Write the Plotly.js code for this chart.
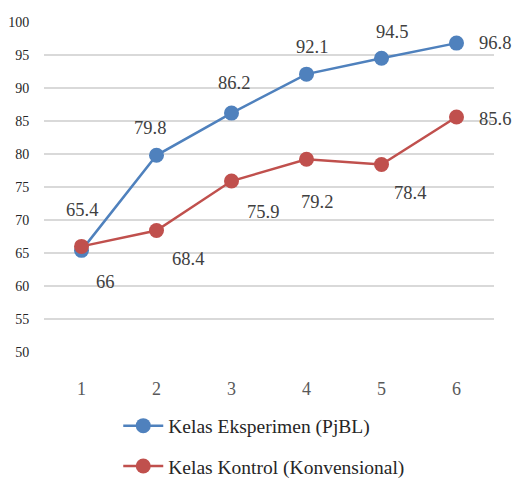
<!DOCTYPE html>
<html>
<head>
<meta charset="utf-8">
<script src="https://cdn.plot.ly/plotly-3.0.1.min.js"></script>
<style>html,body{margin:0;padding:0;background:#fff;}#chart{width:515px;height:479px;}</style>
</head>
<body>
<div id="chart"></div>
<script>
const categories = ['1', '2', '3', '4', '5', '6'];
const eksperimen = [65.4, 79.8, 86.2, 92.1, 94.5, 96.8];
const kontrol = [66, 68.4, 75.9, 79.2, 78.4, 85.6];
const seriesNames = ['Kelas Eksperimen (PjBL)', 'Kelas Kontrol (Konvensional)'];
const yTicks = [50, 55, 60, 65, 70, 75, 80, 85, 90, 95, 100];

// label offsets in pixels [xshift, yshift]
const eksOffsets = [[0, 40], [-7, 27], [2, 30], [5, 27], [10, 26], [38, 0]];
const konOffsets = [[24, -36], [31, -28], [31, -31], [10, -43], [28, -28], [38, -2]];

const blue = '#4F81BD', red = '#C0504D';
const FONT = '"Liberation Serif", "DejaVu Serif", serif';

const traces = [
  {x: categories, y: eksperimen, name: seriesNames[0], type: 'scatter', mode: 'lines+markers',
   line: {color: blue, width: 2.5}, marker: {color: blue, size: 15}, legendgroup: 'a'},
  {x: categories, y: kontrol, name: seriesNames[1], type: 'scatter', mode: 'lines+markers',
   line: {color: red, width: 2.5}, marker: {color: red, size: 15}, legendgroup: 'b'}
];

const annotations = [];
function addLabels(vals, offs) {
  vals.forEach((v, i) => {
    annotations.push({x: i, y: v, xref: 'x', yref: 'y', text: String(v), showarrow: false,
      xshift: offs[i][0], yshift: offs[i][1], font: {family: FONT, size: 18.5, color: '#404040'}});
  });
}
addLabels(eksperimen, eksOffsets);
addLabels(kontrol, konOffsets);

const layout = {
  width: 515, height: 479,
  margin: {l: 44, r: 21, t: 22, b: 127, autoexpand: false},
  paper_bgcolor: '#fff', plot_bgcolor: '#fff',
  font: {family: FONT},
  xaxis: {type: 'category', categoryorder: 'array', categoryarray: categories, range: [-0.5, 5.5],
    showgrid: false, zeroline: false, showline: false,
    ticks: 'outside', ticklen: 20, tickcolor: 'rgba(0,0,0,0)',
    tickfont: {family: FONT, size: 18, color: '#595959'}},
  yaxis: {range: [50, 100], tickvals: yTicks, showgrid: true, gridcolor: '#d9d9d9', gridwidth: 1.5,
    zeroline: false, showline: false, ticks: 'outside', ticklen: 11, tickcolor: 'rgba(0,0,0,0)',
    tickfont: {family: FONT, size: 14, color: '#262626'}},
  showlegend: true,
  legend: {orientation: 'v', x: 0.165, xanchor: 'left', y: -0.165, yanchor: 'top',
    traceorder: 'grouped', tracegroupgap: 12, itemwidth: 40,
    font: {family: FONT, size: 19.5, color: '#262626'}, bgcolor: 'rgba(0,0,0,0)'},
  annotations: annotations
};

Plotly.newPlot('chart', traces, layout, {displayModeBar: false, staticPlot: true});
</script>
</body>
</html>
